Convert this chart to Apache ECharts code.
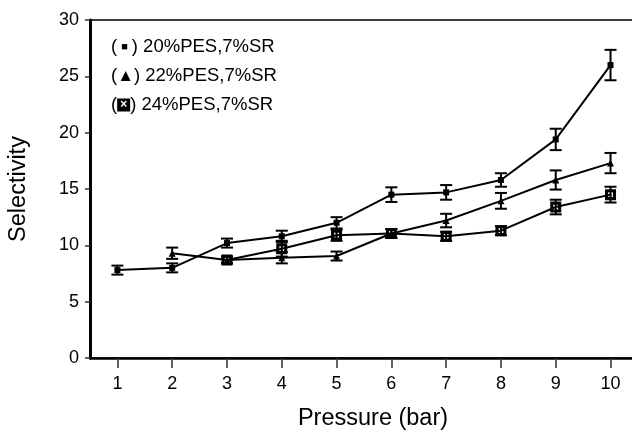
<!DOCTYPE html>
<html>
<head>
<meta charset="utf-8">
<script src="https://cdn.jsdelivr.net/npm/echarts@6/dist/echarts.min.js"></script>
<style>
  html, body { margin: 0; padding: 0; background: #fff; }
  #main { width: 632px; height: 439px; }
</style>
</head>
<body>
<div id="main"></div>
<script>
// 数据
var pressure = [1, 2, 3, 4, 5, 6, 7, 8, 9, 10];
var sel20 = [7.8, 8.0, 10.2, 10.8, 12.0, 14.5, 14.7, 15.8, 19.4, 26.0];
var err20 = [0.4, 0.4, 0.4, 0.5, 0.5, 0.65, 0.65, 0.6, 0.95, 1.35];
var sel22 = [null, 9.3, 8.7, 8.9, 9.05, 11.05, 12.2, 13.95, 15.8, 17.3];
var err22 = [null, 0.5, 0.3, 0.5, 0.4, 0.4, 0.6, 0.7, 0.85, 0.9];
var sel24 = [null, null, 8.7, 9.7, 10.9, 11.05, 10.8, 11.3, 13.4, 14.5];
var err24 = [null, null, 0.3, 0.7, 0.5, 0.4, 0.4, 0.4, 0.65, 0.7];
var yTicks = [0, 5, 10, 15, 20, 25, 30];

var seriesNames = ['20%PES,7%SR', '22%PES,7%SR', '24%PES,7%SR'];
var font = 'Liberation Sans, Arial, sans-serif';

function pairs(vals) {
    return pressure.map(function (p, i) { return vals[i] == null ? null : [p, vals[i]]; })
        .filter(function (d) { return d; });
}
function bars(vals, errs) {
    var out = [];
    pressure.forEach(function (p, i) {
        if (vals[i] != null) out.push([p, vals[i] - errs[i], vals[i] + errs[i]]);
    });
    return out;
}

// 误差棒
function renderErr(params, api) {
    var x = api.value(0);
    var lo = api.coord([x, api.value(1)]);
    var hi = api.coord([x, api.value(2)]);
    var w = 6;
    var st = { stroke: '#000', lineWidth: 2 };
    return {
        type: 'group',
        children: [
            { type: 'line', shape: { x1: hi[0], y1: hi[1], x2: lo[0], y2: lo[1] }, style: st },
            { type: 'line', shape: { x1: hi[0] - w, y1: hi[1], x2: hi[0] + w, y2: hi[1] }, style: st },
            { type: 'line', shape: { x1: lo[0] - w, y1: lo[1], x2: lo[0] + w, y2: lo[1] }, style: st }
        ]
    };
}

var boxSymbol = 'path://M0,0H12V12H0Z M3.4,3.4V8.6H8.6V3.4Z M5.1,5.1H6.9V6.9H5.1Z';

var myChart = echarts.init(document.getElementById('main'));

option = {
    animation: false,
    backgroundColor: '#fff',
    textStyle: { fontFamily: font },
    grid: {
        left: 90, top: 20, width: 566, height: 338,
        outerBoundsMode: 'none',
        containLabel: false,
        show: true, borderColor: '#000', borderWidth: 1.5
    },
    legend: {
        orient: 'vertical',
        left: 100, top: 32,
        itemWidth: 0, itemHeight: 0,
        itemGap: 9,
        selectedMode: false,
        data: seriesNames,
        textStyle: {
            fontSize: 18, color: '#000', fontFamily: font, lineHeight: 20,
            rich: {
                sq: { fontSize: 11, color: '#000', lineHeight: 20, padding: [0, 4, 0, 4] },
                tri: { fontSize: 17, color: '#000', lineHeight: 20 },
                bx: {
                    fontSize: 12, fontWeight: 'bold', color: '#fff', backgroundColor: '#000',
                    width: 13, height: 13, align: 'center', lineHeight: 13
                },
                t: { fontSize: 18.5, color: '#000', lineHeight: 20 }
            }
        },
        formatter: function (name) {
            if (name === seriesNames[0]) return '{t|(}{sq|■}{t|) ' + name + '}';
            if (name === seriesNames[1]) return '{t|(}{tri|▲}{t|) ' + name + '}';
            return '{t|(}{bx|×}{t|) ' + name + '}';
        }
    },
    xAxis: {
        type: 'value',
        min: 0.5,
        max: 10.83,
        name: 'Pressure (bar)',
        nameLocation: 'middle',
        nameGap: 49,
        nameTextStyle: { fontSize: 23.5, color: '#000', fontFamily: font },
        axisLine: { onZero: false, lineStyle: { color: '#000', width: 2.5 } },
        axisTick: { show: true, length: 10, customValues: pressure, lineStyle: { color: '#333', width: 1.5 } },
        axisLabel: { customValues: pressure, fontSize: 18, color: '#000', margin: 17 },
        splitLine: { show: false }
    },
    yAxis: {
        type: 'value',
        min: 0,
        max: 30,
        interval: 5,
        name: 'Selectivity',
        nameLocation: 'middle',
        nameGap: 59,
        nameTextStyle: { fontSize: 23.5, color: '#000', fontFamily: font },
        axisLine: { show: true, lineStyle: { color: '#000', width: 3 } },
        axisTick: { show: true, length: 5, lineStyle: { color: '#333', width: 1.5 } },
        axisLabel: { fontSize: 18, color: '#000', margin: 11,
            formatter: function (v) { return yTicks.indexOf(v) >= 0 ? String(v) : ''; } },
        splitLine: { show: false }
    },
    series: [
        {
            name: seriesNames[0], type: 'line', data: pairs(sel20),
            symbol: 'rect', symbolSize: 6,
            itemStyle: { color: '#000' }, lineStyle: { color: '#000', width: 2 }, z: 3
        },
        {
            name: seriesNames[1], type: 'line', data: pairs(sel22),
            symbol: 'triangle', symbolSize: 7,
            itemStyle: { color: '#000' }, lineStyle: { color: '#000', width: 2 }, z: 3
        },
        {
            name: seriesNames[2], type: 'line', data: pairs(sel24),
            symbol: boxSymbol, symbolSize: 11, symbolKeepAspect: true,
            itemStyle: { color: '#000' }, lineStyle: { color: '#000', width: 2 }, z: 3
        },
        { type: 'custom', renderItem: renderErr, data: bars(sel20, err20), encode: { x: 0, y: [1, 2] }, z: 4 },
        { type: 'custom', renderItem: renderErr, data: bars(sel22, err22), encode: { x: 0, y: [1, 2] }, z: 4 },
        { type: 'custom', renderItem: renderErr, data: bars(sel24, err24), encode: { x: 0, y: [1, 2] }, z: 4 }
    ]
};

myChart.setOption(option);
</script>
</body>
</html>
